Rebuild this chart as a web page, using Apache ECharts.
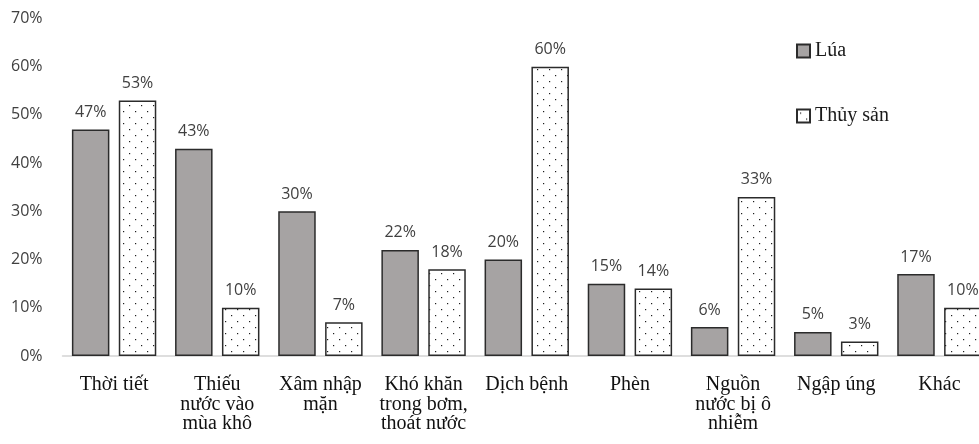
<!DOCTYPE html>
<html>
<head>
<meta charset="utf-8">
<script src="https://cdn.jsdelivr.net/npm/echarts@6/dist/echarts.min.js"></script>
<style>
  html, body { margin: 0; padding: 0; background: #fff; }
  #chart { width: 979px; height: 444px; }
</style>
</head>
<body>
<div id="chart"></div>
<script>
// Categories (hazards) and share of respondents per sector
const categories = [
  'Thời tiết',
  'Thiếu\nnước vào\nmùa khô',
  'Xâm nhập\nmặn',
  'Khó khăn\ntrong bơm,\nthoát nước',
  'Dịch bệnh',
  'Phèn',
  'Nguồn\nnước bị ô\nnhiễm',
  'Ngập úng',
  'Khác'
];
const seriesNames = ['Lúa', 'Thủy sản'];
const luaValues = [47, 43, 30, 22, 20, 15, 6, 5, 17];
const thuySanValues = [53, 10, 7, 18, 60, 14, 33, 3, 10];
const yTicks = [0, 10, 20, 30, 40, 50, 60, 70];

// Dotted fill: staggered dark dots on white
function makeDotPattern() {
  const c = document.createElement('canvas');
  c.width = 12; c.height = 12;
  const ctx = c.getContext('2d');
  ctx.fillStyle = '#ffffff';
  ctx.fillRect(0, 0, 12, 12);
  ctx.fillStyle = '#1e1e1e';
  ctx.fillRect(3, 3, 1.2, 1.2);
  ctx.fillRect(9, 9, 1.2, 1.2);
  return c;
}

const chart = echarts.init(document.getElementById('chart'), null, { renderer: 'canvas' });

const sansFont = '"Open Sans", "DejaVu Sans", sans-serif';
const serifFont = '"Liberation Serif", "DejaVu Serif", serif';

const labelStyle = {
  show: true,
  position: 'top',
  distance: 9,
  formatter: p => p.value + '%',
  fontFamily: sansFont,
  fontSize: 16,
  color: '#404040'
};

chart.setOption({
  animation: false,
  backgroundColor: '#ffffff',
  grid: {
    left: 62.5,
    right: -12,
    top: 18.5,
    bottom: 88,
    outerBoundsMode: 'none'
  },
  legend: {
    orient: 'vertical',
    left: 791,
    top: 36,
    icon: 'rect',
    itemWidth: 13,
    itemHeight: 13,
    itemGap: 45,
    textStyle: {
      fontFamily: serifFont,
      fontSize: 20,
      color: '#1a1a1a'
    },
    data: seriesNames
  },
  xAxis: {
    type: 'category',
    data: categories,
    axisLine: { show: true, lineStyle: { color: '#d4d4d4', width: 1.5 } },
    axisTick: { show: false },
    axisLabel: {
      interval: 0,
      margin: 19,
      fontFamily: serifFont,
      fontSize: 20,
      lineHeight: 19.5,
      color: '#111111'
    }
  },
  yAxis: {
    type: 'value',
    min: yTicks[0],
    max: yTicks[yTicks.length - 1],
    interval: 10,
    splitLine: { show: false },
    axisLine: { show: false },
    axisTick: { show: false },
    axisLabel: {
      margin: 20,
      formatter: v => v + '%',
      fontFamily: sansFont,
      fontSize: 16,
      color: '#404040'
    }
  },
  series: [
    {
      name: seriesNames[0],
      type: 'bar',
      data: luaValues,
      barWidth: 37.5,
      barGap: '25%',
      itemStyle: {
        color: '#a6a3a3',
        borderColor: '#2b2b2b',
        borderWidth: 1.5
      },
      label: labelStyle
    },
    {
      name: seriesNames[1],
      type: 'bar',
      data: thuySanValues,
      barWidth: 37.5,
      itemStyle: {
        color: { image: makeDotPattern(), repeat: 'repeat' },
        borderColor: '#2b2b2b',
        borderWidth: 1.5
      },
      label: labelStyle
    }
  ]
});
</script>
</body>
</html>
